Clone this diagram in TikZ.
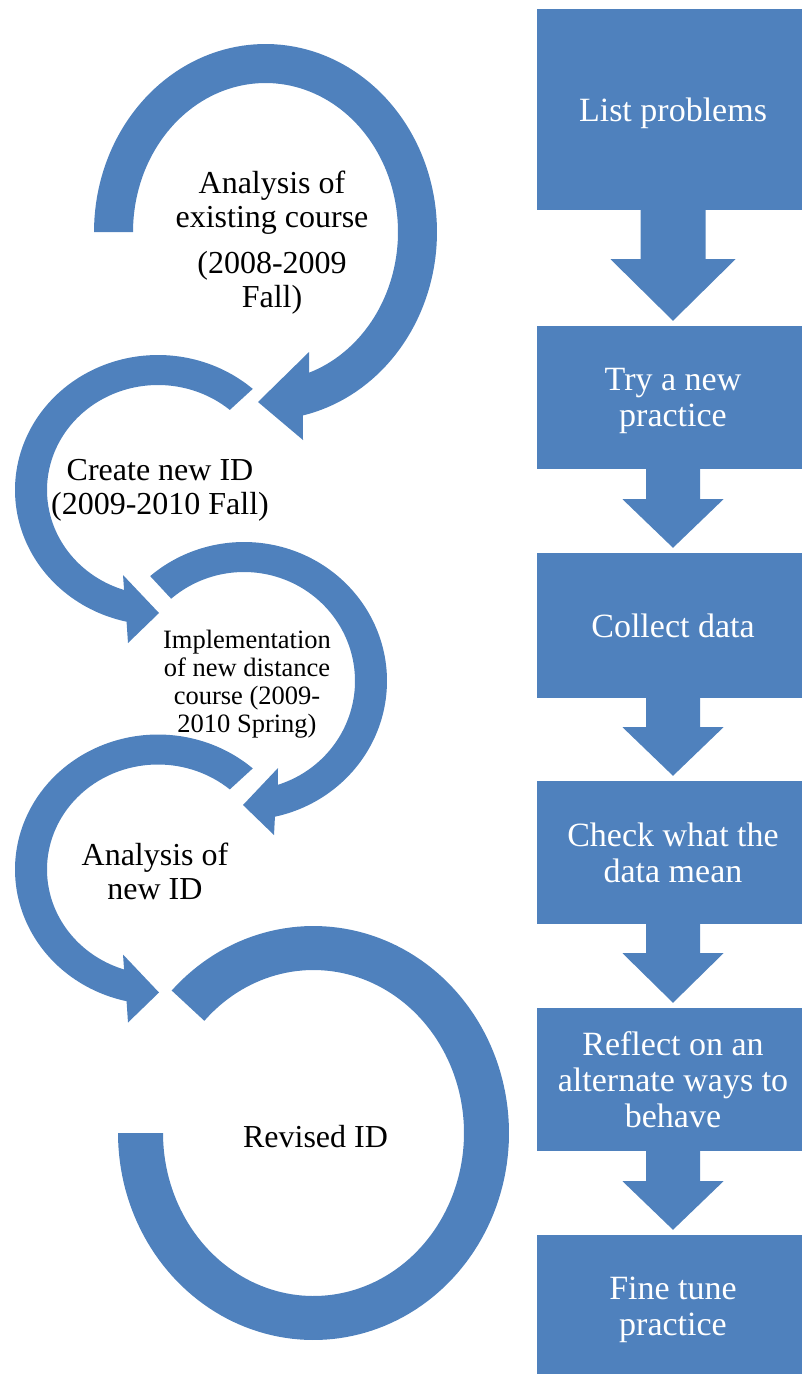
\documentclass[tikz,border=0pt]{standalone}
\usepackage{fontspec}
\setmainfont{Liberation Serif}
\usetikzlibrary{calc}
\definecolor{accent}{RGB}{79,129,189}
\newcommand{\nodepth}[1]{\raisebox{0pt}[\height][0pt]{#1}}
\newcommand{\stepArrow}[5]{%
  \fill[accent] ($(#1.south)+(-#3,-1)$) -- ($(#1.south)+(-#3,#4)$) -- ($(#1.south)+(-#5,#4)$)
    -- ($(#2.north)+(0,-5)$) -- ($(#1.south)+(#5,#4)$) -- ($(#1.south)+(#3,#4)$)
    -- ($(#1.south)+(#3,-1)$) -- cycle;}
\begin{document}
\begin{tikzpicture}[x=1pt,y=-1pt,
  lbl/.style={align=center, inner sep=0pt, text=black, font=\fontsize{32}{34}\selectfont},
  smalllbl/.style={align=center, inner sep=0pt, text=black, font=\fontsize{26.5}{28}\selectfont},
  stepbox/.style={fill=accent, draw=none, inner sep=0pt, align=center, text=white,
    minimum width=272pt, font=\fontsize{34}{36}\selectfont}
]
\useasboundingbox (0,0) rectangle (801,1374);

% ---- ring 1: Analysis of existing course
\fill[accent] plot[domain=180:437.4, samples=120, variable=\t] ({265.5+171.5*cos(\t)}, {232+188*sin(\t)})
  -- (303,440) -- (258,402) -- (309,352)
  -- plot[domain=430.8:180, samples=120, variable=\t] ({265.5+132.5*cos(\t)}, {232+149*sin(\t)}) -- cycle;

% ---- ring 2: Create new ID
\fill[accent] plot[domain=311.5:102.7, samples=120, variable=\t] ({158+143*cos(\t)}, {490+135*sin(\t)})
  -- (128,643) -- (159,613) -- (123,575)
  -- plot[domain=107.8:310.3, samples=120, variable=\t] ({158+111*cos(\t)}, {490+105*sin(\t)}) -- cycle;

% ---- ring 3: Implementation
\fill[accent] plot[domain=229:437.5, samples=120, variable=\t] ({244+143*cos(\t)}, {681+139*sin(\t)})
  -- (274,835) -- (243,805) -- (278,768)
  -- plot[domain=432.2:229, samples=120, variable=\t] ({244+111*cos(\t)}, {681+109*sin(\t)}) -- cycle;

% ---- ring 4: Analysis of new ID
\fill[accent] plot[domain=311.5:102.7, samples=120, variable=\t] ({158+143*cos(\t)}, {869.5+135*sin(\t)})
  -- (128,1022.5) -- (159,992.5) -- (123,954.5)
  -- plot[domain=107.8:310.3, samples=120, variable=\t] ({158+111*cos(\t)}, {869.5+105*sin(\t)}) -- cycle;

% ---- ring 5: Revised ID
\fill[accent] plot[domain=223.5:540, samples=160, variable=\t] ({313.5+195.5*cos(\t)}, {1133+207*sin(\t)})
  -- plot[domain=540:223.5, samples=160, variable=\t] ({313.5+150.5*cos(\t)}, {1133+163*sin(\t)}) -- cycle;

% ---- ring labels
\node[lbl] (n1) at (272,243) {Analysis of\\existing course\\[12pt](2008-2009\\Fall)};
\node[lbl] (n2) at (160,490) {Create new ID\\(2009-2010 Fall)};
\node[smalllbl] (n3) at (247,684) {Implementation\\of new distance\\course (2009-\\2010 Spring)};
\node[lbl] (n4) at (155,871) {Analysis of\\new ID};
\node[lbl] (n5) at (315.5,1136.5) {Revised ID};

% ---- right column
\node[stepbox, minimum height=201pt] (b1) at (673,109.5) {\nodepth{List problems}};
\node[stepbox, minimum height=143pt] (b2) at (673,397.5) {Try a new\\\nodepth{practice}};
\node[stepbox, minimum height=145pt] (b3) at (673,625.5) {Collect data};
\node[stepbox, minimum height=143pt] (b4) at (673,852.5) {Check what the\\data mean};
\node[stepbox, minimum height=143pt] (b5) at (673,1079.5) {Reflect on an\\alternate ways to\\behave};
\node[stepbox, minimum height=143pt] (b6) at (673,1306.5) {Fine tune\\\nodepth{practice}};

\stepArrow{b1}{b2}{32.5}{49}{62.5}
\stepArrow{b2}{b3}{27}{30}{50.5}
\stepArrow{b3}{b4}{27}{29}{50.5}
\stepArrow{b4}{b5}{27}{29}{50.5}
\stepArrow{b5}{b6}{27}{30}{50.5}
\end{tikzpicture}
\end{document}
